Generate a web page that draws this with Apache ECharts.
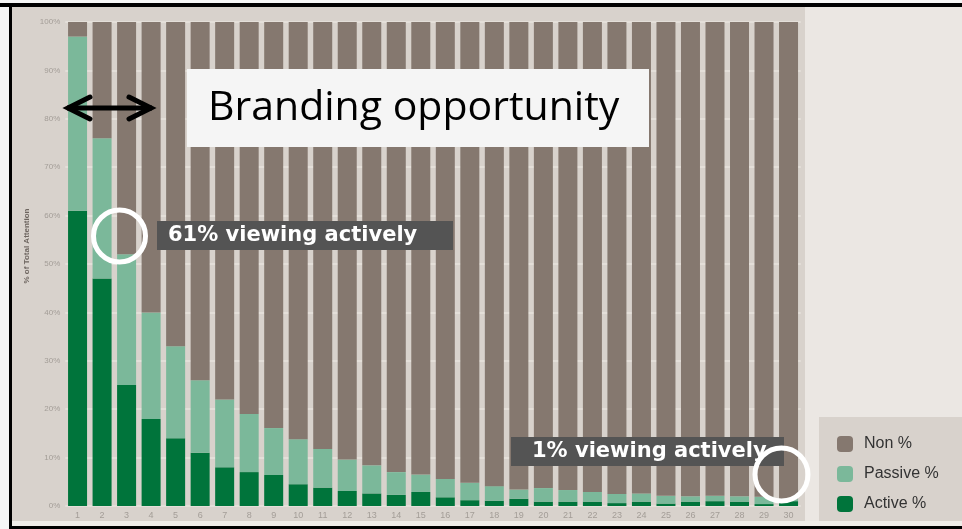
<!DOCTYPE html>
<html>
<head>
<meta charset="utf-8">
<script src="https://cdn.jsdelivr.net/npm/echarts@6/dist/echarts.min.js"></script>
<style>
  html, body { margin: 0; padding: 0; background: #f6f6f6; }
  #chart { width: 962px; height: 529px; }
</style>
</head>
<body>
<div id="chart"></div>
<script>
// Seconds into the ad (1..30)
const seconds = ['1','2','3','4','5','6','7','8','9','10','11','12','13','14','15',
                 '16','17','18','19','20','21','22','23','24','25','26','27','28','29','30'];

// Share of total attention per second, in percent
const activePct  = [61, 47, 25, 18, 14, 11, 8, 7, 6.4, 4.5, 3.8, 3.1, 2.6, 2.3, 2.9,
                    1.8, 1.2, 1.1, 1.5, 0.9, 0.9, 0.9, 0.6, 0.9, 0.5, 0.9, 1.0, 0.9, 0.4, 1];
const passivePct = [36, 29, 27, 22, 19, 15, 14, 12, 9.7, 9.3, 8.0, 6.5, 5.8, 4.7, 3.6,
                    3.8, 3.6, 3.0, 1.9, 2.8, 2.4, 2.0, 1.9, 1.7, 1.6, 1.1, 1.1, 1.1, 1.5, 0.4];
const nonPct     = [3, 24, 48, 60, 67, 74, 78, 81, 83.9, 86.2, 88.2, 90.4, 91.6, 93.0, 93.5,
                    94.4, 95.2, 95.9, 96.6, 96.3, 96.7, 97.1, 97.5, 97.4, 97.9, 98.0, 97.9, 98.0, 98.1, 98.6];

const seriesNames = ['Non %', 'Passive %', 'Active %'];
const colors = { non: '#85786f', passive: '#7bb89a', active: '#00743b' };

const chart = echarts.init(document.getElementById('chart'), null, { renderer: 'canvas' });

const annoFont = 'bold 21px "DejaVu Sans", Verdana, sans-serif';

chart.setOption({
  backgroundColor: '#ebe7e3',
  animation: false,
  grid: { left: 65.3, right: 161.2, top: 22, bottom: 23 },
  legend: {
    data: seriesNames,
    orient: 'vertical',
    left: 832,
    top: 431,
    itemWidth: 16,
    itemHeight: 16,
    itemGap: 14,
    icon: 'roundRect',
    textStyle: { fontSize: 16, color: '#333333', fontFamily: '"Liberation Sans", Arial, sans-serif', padding: [0, 0, 0, 6] }
  },
  xAxis: {
    type: 'category',
    data: seconds,
    axisLine: { show: false },
    axisTick: { show: false },
    axisLabel: { fontSize: 9, color: '#a39d97', margin: 5, fontFamily: '"Liberation Sans", Arial, sans-serif' }
  },
  yAxis: {
    type: 'value',
    min: 0,
    max: 100,
    interval: 10,
    axisLine: { show: false },
    axisTick: { show: false },
    axisLabel: { formatter: '{value}%', fontSize: 8, color: '#a39d97', margin: 5, fontFamily: '"Liberation Sans", Arial, sans-serif' },
    splitLine: { lineStyle: { color: '#e8e3de', width: 1.5 } }
  },
  series: [
    { name: 'Active %', type: 'bar', stack: 'att', barWidth: 19, data: activePct, itemStyle: { color: colors.active } },
    { name: 'Passive %', type: 'bar', stack: 'att', barWidth: 19, data: passivePct, itemStyle: { color: colors.passive } },
    { name: 'Non %', type: 'bar', stack: 'att', barWidth: 19, data: nonPct, itemStyle: { color: colors.non } }
  ],
  graphic: [
    // frame and panels
    { type: 'rect', z: -10, shape: { x: 0, y: 0, width: 962, height: 529 }, style: { fill: '#f6f6f6' } },
    { type: 'rect', z: -9, shape: { x: 12, y: 7, width: 950, height: 519 }, style: { fill: '#ebe7e3' } },
    { type: 'rect', z: -8, shape: { x: 12, y: 7, width: 793, height: 514 }, style: { fill: '#d8d2cc' } },
    { type: 'rect', z: -8, shape: { x: 12, y: 521, width: 950, height: 5 }, style: { fill: '#f0ede9' } },
    { type: 'rect', z: 50, shape: { x: 0, y: 3, width: 962, height: 4 }, style: { fill: '#000000' } },
    { type: 'rect', z: 50, shape: { x: 9, y: 3, width: 3, height: 526 }, style: { fill: '#000000' } },
    { type: 'rect', z: 50, shape: { x: 9, y: 526, width: 953, height: 3 }, style: { fill: '#000000' } },
    // legend panel
    { type: 'rect', z: -7, shape: { x: 819, y: 417, width: 143, height: 104 }, style: { fill: '#d8d2cc' } },
    // y-axis title
    {
      type: 'text', z: 20, x: 27, y: 246, rotation: Math.PI / 2,
      style: { text: '% of Total Attention', fill: '#6e6660', font: 'bold 8px "Liberation Sans", Arial, sans-serif', textAlign: 'center', textVerticalAlign: 'middle' }
    },
    // branding call-out
    { type: 'rect', z: 60, shape: { x: 187, y: 69, width: 462, height: 78 }, style: { fill: '#f5f5f5' } },
    {
      type: 'text', z: 61, x: 208, y: 108,
      style: { text: 'Branding opportunity', fill: '#000000', font: '41px "Open Sans", sans-serif', textAlign: 'left', textVerticalAlign: 'middle' }
    },
    // double-headed arrow
    {
      type: 'polyline', z: 61,
      shape: { points: [[67, 108], [152, 108]] },
      style: { stroke: '#000000', lineWidth: 5, fill: null }
    },
    {
      type: 'polyline', z: 61,
      shape: { points: [[90, 97], [68, 108], [90, 119]] },
      style: { stroke: '#000000', lineWidth: 5, fill: null, lineJoin: 'miter', lineCap: 'round' }
    },
    {
      type: 'polyline', z: 61,
      shape: { points: [[129, 97], [151, 108], [129, 119]] },
      style: { stroke: '#000000', lineWidth: 5, fill: null, lineJoin: 'miter', lineCap: 'round' }
    },
    // 61% call-out
    { type: 'rect', z: 60, shape: { x: 157, y: 221, width: 296, height: 29 }, style: { fill: '#545454' } },
    {
      type: 'text', z: 61, x: 168, y: 236,
      style: { text: '61% viewing actively', fill: '#ffffff', font: annoFont, textAlign: 'left', textVerticalAlign: 'middle' }
    },
    { type: 'circle', z: 62, shape: { cx: 119.5, cy: 236, r: 26 }, style: { fill: null, stroke: '#ffffff', lineWidth: 5 } },
    // 1% call-out
    { type: 'rect', z: 60, shape: { x: 511, y: 437, width: 273, height: 29 }, style: { fill: '#545454' } },
    {
      type: 'text', z: 61, x: 532, y: 452,
      style: { text: '1% viewing actively', fill: '#ffffff', font: annoFont, textAlign: 'left', textVerticalAlign: 'middle' }
    },
    { type: 'circle', z: 62, shape: { cx: 781.5, cy: 474.5, r: 26.5 }, style: { fill: null, stroke: '#ffffff', lineWidth: 5 } }
  ]
});
</script>
</body>
</html>
